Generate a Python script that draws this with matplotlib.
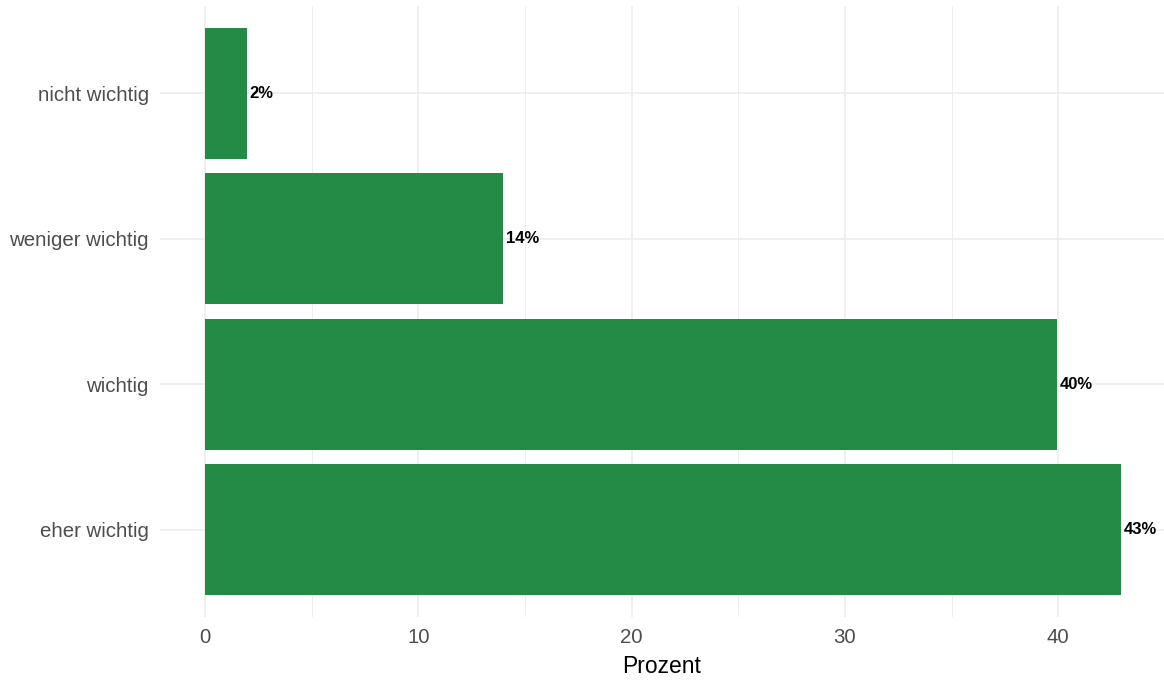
import matplotlib

matplotlib.use("Agg")

import matplotlib.pyplot as plt
from matplotlib.ticker import MultipleLocator

# data (bottom to top, as drawn)
categories = ["eher wichtig", "wichtig", "weniger wichtig", "nicht wichtig"]
percent = [42.94, 39.94, 13.97, 1.97]
labels = ["43%", "40%", "14%", "2%"]

BAR_COLOR = "#238b45"
GRID = "#ebebeb"
TEXT = "#4d4d4d"

plt.rcParams["font.family"] = ["Liberation Sans", "DejaVu Sans"]

W, H = 1164, 683
fig = plt.figure(figsize=(W / 100, H / 100), dpi=100)
# panel placed in pixel coordinates
left, right, top, bottom = 160, 1164, 6, 617
ax = fig.add_axes([left / W, 1 - bottom / H, (right - left) / W, (bottom - top) / H])

ypos = list(range(len(categories)))
ax.barh(ypos, percent, height=0.9, color=BAR_COLOR, zorder=2)
for y, v, lab in zip(ypos, percent, labels):
    ax.annotate(lab, (v, y), xytext=(2, 0), textcoords="offset points",
                ha="left", va="center", fontsize=12, fontweight="bold",
                color="black", zorder=3)

ax.set_xlim(-2.11, 44.96)
ax.set_ylim(-0.6, len(categories) - 0.4)
ax.set_yticks(ypos)
ax.set_yticklabels(categories)
ax.xaxis.set_major_locator(MultipleLocator(10))
ax.xaxis.set_minor_locator(MultipleLocator(5))
ax.set_xticks([0, 10, 20, 30, 40])

ax.grid(True, which="major", color=GRID, linewidth=1.1, zorder=0)
ax.grid(True, which="minor", axis="x", color=GRID, linewidth=0.6, zorder=0)
ax.set_axisbelow(True)
for s in ax.spines.values():
    s.set_visible(False)
ax.tick_params(which="both", length=0)
ax.tick_params(axis="y", labelsize=14.7, labelcolor=TEXT, pad=8)
ax.tick_params(axis="x", labelsize=14.7, labelcolor=TEXT, pad=8)

ax.set_xlabel("Prozent", fontsize=16.5, color="black", labelpad=6)

fig.savefig("out.png", dpi=100, facecolor="white")
